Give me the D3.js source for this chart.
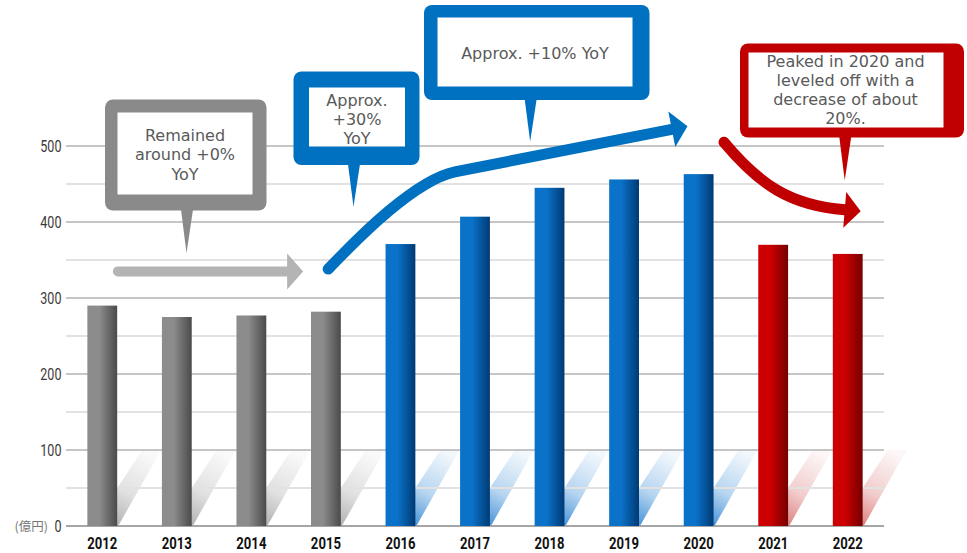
<!DOCTYPE html>
<html>
<head>
<meta charset="utf-8">
<script src="https://cdn.jsdelivr.net/npm/d3@7"></script>
<style>
  html, body { margin: 0; padding: 0; background: #fff; }
  svg { display: block; }
</style>
</head>
<body>
<svg id="chart" width="967" height="553"></svg>
<script>
// ---- data ----
const years = ['2012','2013','2014','2015','2016','2017','2018','2019','2020','2021','2022'];
const sales = [290, 275, 277, 282, 371, 407, 445, 456, 463, 370, 358];
const phases = ['flat','flat','flat','flat','growth','growth','growth','growth','growth','decline','decline'];
const yTicks = [0, 100, 200, 300, 400, 500];
const yMinor = [50, 150, 250, 350, 450];
const unitLabel = '(億円)';

// trend arrows, points given as [year offset from 2012, value]
const flatTrend = [[0.21, 335], [2.48, 335]];
const growthTrend = [[3.03, 338], [3.46, 382], [4.20, 455], [4.73, 466], [7.64, 522]];
const declineTrend = [[8.34, 505], [8.82, 449], [9.22, 422], [9.96, 416]];

// callout texts and where their pointers land [year offset, value]
const calloutFlat = ['Remained', 'around +0%', 'YoY'];
const calloutGrowth1 = ['Approx.', '+30%', 'YoY'];
const calloutGrowth2 = ['Approx. +10% YoY'];
const calloutDecline = ['Peaked in 2020 and', 'leveled off with a', 'decrease of about', '20%.'];
const calloutTips = [[1.13, 359], [3.37, 420], [5.74, 506], [9.96, 455]];

// ---- styling ----
const phaseColors = {
  flat:    { light: '#8c8c8c', dark: '#4a4a4a', shadow: '#a8a8a8', arrow: '#b4b4b4', box: '#8a8a8a' },
  growth:  { light: '#0a72c8', dark: '#003a74', shadow: '#2f86d4', arrow: '#0070c0', box: '#0070c0' },
  decline: { light: '#cc0000', dark: '#750000', shadow: '#d97070', arrow: '#c00000', box: '#c00000' }
};

const svg = d3.select('#chart');
const defs = svg.append('defs');

const x = d3.scaleBand().domain(years).range([65, 885]).paddingInner(0.6).paddingOuter(0.3);
const y = d3.scaleLinear().domain([0, 500]).range([526, 146]);
const bw = x.bandwidth();
const pos = i => x(years[0]) + bw / 2 + i * x.step();   // fractional year position
const pt = d => [pos(d[0]), y(d[1])];

Object.entries(phaseColors).forEach(([k, c]) => {
  const g = defs.append('linearGradient').attr('id', 'bar-' + k)
    .attr('x1', 0).attr('x2', 1).attr('y1', 0).attr('y2', 0);
  g.append('stop').attr('offset', 0).attr('stop-color', c.light);
  g.append('stop').attr('offset', 0.4).attr('stop-color', c.light);
  g.append('stop').attr('offset', 1).attr('stop-color', c.dark);
  const s = defs.append('linearGradient').attr('id', 'shadow-' + k)
    .attr('x1', 0.25).attr('y1', 1).attr('x2', 0.75).attr('y2', 0);
  s.append('stop').attr('offset', 0).attr('stop-color', c.shadow).attr('stop-opacity', 0.95);
  s.append('stop').attr('offset', 0.45).attr('stop-color', c.shadow).attr('stop-opacity', 0.35);
  s.append('stop').attr('offset', 1).attr('stop-color', c.shadow).attr('stop-opacity', 0.06);
});

// ---- floor shadows ----
const base = y(0), shTop = y(100);
svg.append('g').selectAll('path').data(years).join('path')
  .attr('d', (d) => {
    const xl = x(d), xr = xl + bw;
    return `M${xl + 5},${base} L${xr + 1},${base} L${xr + 44},${shTop} L${xr + 25},${shTop} Z`;
  })
  .attr('fill', (d, i) => `url(#shadow-${phases[i]})`);

// ---- grid ----
const grid = svg.append('g');
grid.selectAll('.minor').data(yMinor).join('line')
  .attr('x1', 66).attr('x2', 884)
  .attr('y1', d => y(d)).attr('y2', d => y(d))
  .attr('stroke', '#e2e2e2').attr('stroke-width', 2);
grid.selectAll('.major').data(yTicks).join('line')
  .attr('x1', 66).attr('x2', 884)
  .attr('y1', d => y(d)).attr('y2', d => y(d))
  .attr('stroke', d => d === 0 ? '#a6a6a6' : '#8e8e8e')
  .attr('stroke-width', d => d === 0 ? 2 : 1.2);

// ---- y tick labels ----
svg.append('g').selectAll('text').data(yTicks).join('text')
  .attr('transform', d => `translate(61.5,${y(d) + 6}) scale(0.74,1)`)
  .attr('text-anchor', 'end')
  .attr('font-family', 'Roboto, sans-serif')
  .attr('font-weight', 400)
  .attr('font-size', 17)
  .attr('fill', '#3a3a3a')
  .text(d => d);

svg.append('text')
  .attr('x', 48).attr('y', y(0) + 5)
  .attr('text-anchor', 'end')
  .attr('font-family', '"Noto Sans CJK JP", sans-serif')
  .attr('font-size', 12.5)
  .attr('fill', '#777')
  .text(unitLabel);

// ---- bars ----
svg.append('g').selectAll('rect').data(sales).join('rect')
  .attr('x', (d, i) => x(years[i]))
  .attr('y', d => y(d))
  .attr('width', bw)
  .attr('height', d => y(0) - y(d))
  .attr('fill', (d, i) => `url(#bar-${phases[i]})`);

// ---- x labels ----
svg.append('g').selectAll('text').data(years).join('text')
  .attr('transform', d => `translate(${x(d) + bw / 2},548.5) scale(0.82,1)`)
  .attr('text-anchor', 'middle')
  .attr('font-family', 'Roboto, sans-serif')
  .attr('font-weight', 700)
  .attr('font-size', 16)
  .attr('fill', '#111')
  .text(d => d);

// ---- trend arrows ----
function trendArrow(points, color, width, curved) {
  const p = points.map(pt);
  let d;
  if (curved && p.length === 5) {
    d = `M${p[0]} C${p[1]} ${p[2]} ${p[3]} L${p[4]}`;
  } else if (curved && p.length === 4) {
    d = `M${p[0]} C${p[1]} ${p[2]} ${p[3]}`;
  } else {
    d = d3.line()(p);
  }
  const g = svg.append('g');
  g.append('path').attr('d', d).attr('fill', 'none')
    .attr('stroke', color).attr('stroke-width', width)
    .attr('stroke-linecap', 'round');
  const a = p[p.length - 2], b = p[p.length - 1];
  const dx = b[0] - a[0], dy = b[1] - a[1], L = Math.hypot(dx, dy);
  const ux = dx / L, uy = dy / L, nx = -uy, ny = ux;
  const len = 16, half = 18;
  const tip = [b[0] + ux * len, b[1] + uy * len];
  const l = [b[0] + nx * half, b[1] + ny * half];
  const r = [b[0] - nx * half, b[1] - ny * half];
  g.append('path').attr('d', `M${l} L${tip} L${r} Z`).attr('fill', color);
}
trendArrow(flatTrend, phaseColors.flat.arrow, 10, false);
trendArrow(growthTrend, phaseColors.growth.arrow, 11, true);
trendArrow(declineTrend, phaseColors.decline.arrow, 11, true);

// ---- callouts ----
const calloutLayout = [
  { lines: calloutFlat,    phase: 'flat',    box: [105, 99.5, 266.5, 210.5], inner: [117.5, 112.5, 252.5, 194.5], textX: 185, textY: 135, lh: 19.5 },
  { lines: calloutGrowth1, phase: 'growth',  box: [293.5, 71.5, 419.5, 165],  inner: [309, 87.5, 405, 146.5],   textX: 357, textY: 100, lh: 19.2 },
  { lines: calloutGrowth2, phase: 'growth',  box: [424, 5, 649.5, 100],       inner: [437.5, 17.5, 632.5, 86.5], textX: 535, textY: 53,  lh: 19 },
  { lines: calloutDecline, phase: 'decline', box: [740, 43.5, 964, 137.5],    inner: [748.5, 52.5, 943.5, 127.5], textX: 845.5, textY: 61.7, lh: 19 }
];

calloutLayout.forEach((c, k) => {
  const g = svg.append('g');
  const color = phaseColors[c.phase].box;
  const [x0, y0, x1, y1] = c.box;
  const tip = pt(calloutTips[k]);
  g.append('rect').attr('x', x0).attr('y', y0)
    .attr('width', x1 - x0).attr('height', y1 - y0)
    .attr('rx', 8).attr('ry', 8).attr('fill', color);
  g.append('path')
    .attr('d', `M${tip[0] - 5.5},${y1 - 1} L${tip[0] + 6.5},${y1 - 1} L${tip[0]},${tip[1]} Z`)
    .attr('fill', color);
  const [i0, j0, i1, j1] = c.inner;
  g.append('rect').attr('x', i0).attr('y', j0)
    .attr('width', i1 - i0).attr('height', j1 - j0).attr('fill', '#fff');
  g.selectAll('text').data(c.lines).join('text')
    .attr('x', c.textX)
    .attr('y', (d, i) => c.textY + i * c.lh)
    .attr('dy', '0.36em')
    .attr('text-anchor', 'middle')
    .attr('font-family', '"DejaVu Sans", Verdana, sans-serif')
    .attr('font-size', 16)
    .attr('fill', '#5a5a5a')
    .text(d => d);
});
</script>
</body>
</html>
